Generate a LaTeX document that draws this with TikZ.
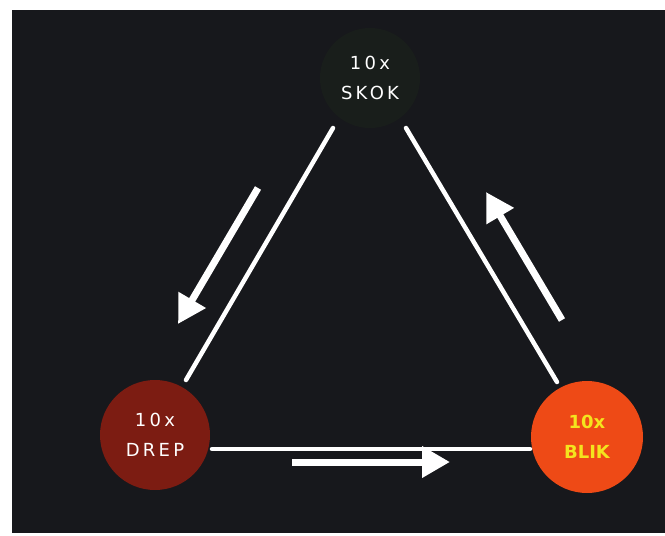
\documentclass[tikz,border=0pt]{standalone}
\usepackage{fontspec}
\setmainfont{DejaVu Sans}
\usetikzlibrary{arrows.meta}
\definecolor{bgdark}{HTML}{17181C}
\definecolor{skokfill}{HTML}{191E1B}
\definecolor{drepfill}{HTML}{7C1C12}
\definecolor{blikfill}{HTML}{EE4A16}
\definecolor{blikfont}{HTML}{F4E41E}
\tikzset{
  stage/.style={circle, minimum size=#1, inner sep=0pt, align=center,
    font=\fontsize{18}{30}\selectfont\addfontfeatures{LetterSpace=18}},
  link/.style={draw=white, line width=4.5pt, line cap=round},
  flow/.style={draw=white, line width=7pt,
    -{Triangle[length=28pt,width=30pt]}},
}
\begin{document}
\begin{tikzpicture}[x=1pt,y=-1pt]
\useasboundingbox (0,0) rectangle (665,536);
\fill[white] (0,0) rectangle (665,536);
\fill[bgdark] (12,10) rectangle (665,533);
\node[stage=100pt, fill=skokfill, text=white] (skok) at (370,78) {10x\\SKOK};
\node[stage=110pt, fill=drepfill, text=white] (drep) at (155,435) {10x\\DREP};
\node[stage=112pt, fill=blikfill, text=blikfont, font=\bfseries\fontsize{18}{30}\selectfont] (blik) at (587,437) {10x\\BLIK};
\coordinate (s1) at (333,128);
\coordinate (d1) at (186,380);
\coordinate (s2) at (406,128);
\coordinate (b1) at (557,382);
\coordinate (d2) at (212,449);
\coordinate (b2) at (530,449);
\draw[link] (s1) -- (d1);
\draw[link] (s2) -- (b1);
\draw[link] (d2) -- (b2);
\coordinate (a1s) at (258,188);
\coordinate (a1e) at (178,324);
\coordinate (a2s) at (562,320);
\coordinate (a2e) at (486,192);
\coordinate (a3s) at (292,462);
\coordinate (a3e) at (450,462);
\draw[flow] (a1s) -- (a1e);
\draw[flow] (a2s) -- (a2e);
\draw[flow] (a3s) -- (a3e);
\end{tikzpicture}
\end{document}
